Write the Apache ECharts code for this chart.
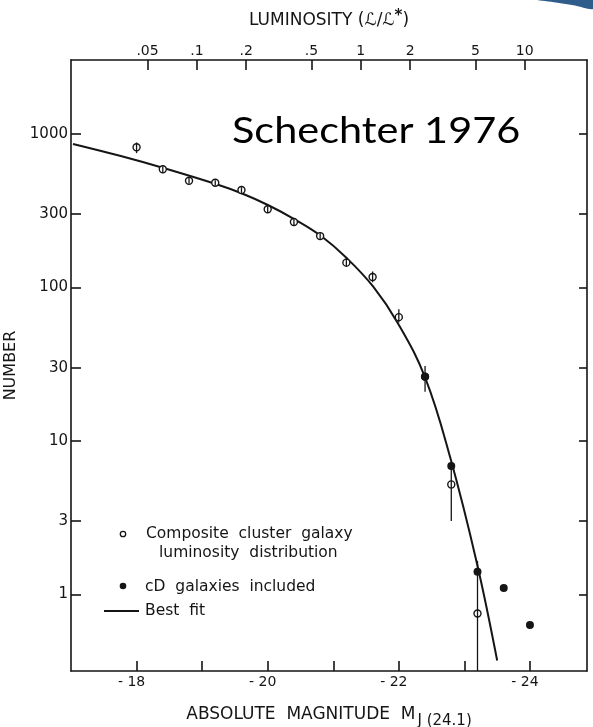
<!DOCTYPE html>
<html>
<head>
<meta charset="utf-8">
<script src="https://cdn.jsdelivr.net/npm/echarts@6/dist/echarts.min.js"></script>
<style>
  html, body { margin: 0; padding: 0; background: #ffffff; }
  #chart { width: 593px; height: 727px; }
</style>
</head>
<body>
<div id="chart"></div>
<script>
// Composite cluster galaxy luminosity function (open circles), 0.4 mag bins
const magBins = [-18.0, -18.4, -18.8, -19.2, -19.6, -20.0, -20.4, -20.8, -21.2, -21.6, -22.0, -22.4, -22.8, -23.2];
const compositeCounts = [819, 589, 496, 481, 431, 323, 267, 216, 145, 117, 64, 26.2, 5.2, 0.75];
// Error bar extents (0 means the bar runs down to the axis)
const errLow  = [750, 565, 475, 462, 413, 308, 255, 205, 136, 108, 59, 20.9, 3.0, 0];
const errHigh = [880, 615, 518, 500, 450, 338, 280, 228, 155, 127, 72, 30.7, 7.0, 1.65];

// Bins with cD galaxies included (filled dots)
const cdMags = [-22.4, -22.8, -23.2, -23.6, -24.0];
const cdCounts = [26.2, 6.85, 1.40, 1.10, 0.63];

// Best-fit curve, sampled along the drawn line
const fitMags   = [-17.03, -17.76, -18.41, -19.22, -19.61, -20.01, -20.41, -20.81, -21.20, -21.61, -21.99, -22.40, -22.78, -23.19, -23.50];
const fitCounts = [861, 718, 600, 470, 409, 343, 278, 217, 156, 101, 58, 25.9, 7.9, 1.6, 0.37];

// Axis ticks
const magTicks = [-18, -19, -20, -21, -22, -23, -24];
const magLabels = [-18, -20, -22, -24];
const numberTicks = [1, 3, 10, 30, 100, 300, 1000];
const lumTicks = [0.05, 0.1, 0.2, 0.5, 1, 2, 5, 10];
const lumLabels = ['.05', '.1', '.2', '.5', '1', '2', '5', '10'];

// Magnitude range of the frame and the characteristic magnitude M*
const magFaint = -17.0;
const magBright = -24.87;
const magStar = -21.42;
const lum = m => Math.pow(10, -0.4 * (m - magStar));

const INK = '#151515';
const FONT = 'DejaVu Sans';
const LEGEND_FONT = '15.5px "DejaVu Sans"';

const chart = echarts.init(document.getElementById('chart'), null, { renderer: 'canvas' });

const axisLine = { show: true, lineStyle: { color: INK, width: 1.6 } };
const tickStyle = { color: INK, width: 1.6 };

const option = {
  backgroundColor: '#ffffff',
  animation: false,
  textStyle: { fontFamily: FONT, color: INK },
  grid: { left: 71, top: 60, right: 6, bottom: 56, containLabel: false, outerBoundsMode: 'none' },
  xAxis: [
    {
      type: 'value', position: 'bottom', inverse: true,
      min: magBright, max: magFaint,
      name: 'ABSOLUTE  MAGNITUDE  M{sub|J (24.1)}',
      nameLocation: 'middle', nameGap: 30,
      nameTextStyle: {
        fontFamily: FONT, fontSize: 17, color: INK,
        rich: { sub: { fontFamily: FONT, fontSize: 15, color: INK, padding: [13, 0, 0, 2] } }
      },
      axisLine: axisLine,
      axisTick: { inside: true, length: 10, lineStyle: tickStyle, customValues: magTicks },
      axisLabel: {
        margin: 4, fontSize: 14, color: INK, fontFamily: FONT,
        padding: [0, 10, 0, 0],
        customValues: magLabels,
        formatter: v => '- ' + Math.abs(v)
      },
      splitLine: { show: false }
    },
    {
      type: 'log', position: 'top',
      min: lum(magFaint), max: lum(magBright),
      name: 'LUMINOSITY (ℒ/ℒ{sup|*})',
      nameLocation: 'middle', nameGap: 28,
      nameTextStyle: {
        fontFamily: FONT, fontSize: 17, color: INK,
        rich: { sup: { fontFamily: FONT, fontSize: 15, fontWeight: 'bold', color: INK, padding: [0, 0, 8, 0] } }
      },
      axisLine: axisLine,
      axisTick: { inside: true, length: 10, lineStyle: tickStyle, customValues: lumTicks },
      axisLabel: {
        margin: 2, fontSize: 14, color: INK, fontFamily: FONT,
        customValues: lumTicks,
        formatter: v => {
          const i = lumTicks.findIndex(t => Math.abs(t - v) < 1e-9);
          return i >= 0 ? lumLabels[i] : '';
        }
      },
      splitLine: { show: false }
    }
  ],
  yAxis: [
    {
      type: 'log', position: 'left',
      min: 0.3162, max: 3034,
      name: 'NUMBER', nameLocation: 'middle', nameGap: 46, nameRotate: 90,
      nameTextStyle: { fontFamily: FONT, fontSize: 16, color: INK },
      axisLine: axisLine,
      axisTick: { inside: true, length: 10, lineStyle: tickStyle, customValues: numberTicks },
      axisLabel: {
        margin: 3, fontSize: 15, color: INK, fontFamily: FONT,
        customValues: numberTicks,
        formatter: v => String(v)
      },
      splitLine: { show: false }
    },
    {
      type: 'log', position: 'right',
      min: 0.3162, max: 3034,
      axisLine: axisLine,
      axisTick: { inside: true, length: 8, lineStyle: tickStyle, customValues: numberTicks },
      axisLabel: { show: false },
      splitLine: { show: false }
    }
  ],
  series: [
    {
      name: 'Best fit',
      type: 'line',
      xAxisIndex: 0, yAxisIndex: 0,
      data: fitMags.map((m, i) => [m, fitCounts[i]]),
      smooth: 0.4,
      symbol: 'none',
      lineStyle: { color: INK, width: 2 },
      z: 2
    },
    {
      name: 'Error bars',
      type: 'custom',
      xAxisIndex: 0, yAxisIndex: 0,
      data: magBins.map((m, i) => [m, errLow[i], errHigh[i]]),
      renderItem: (params, api) => {
        const m = api.value(0);
        const lo = api.value(1);
        const hi = api.value(2);
        const top = api.coord([m, hi]);
        const bottomY = lo > 0 ? api.coord([m, lo])[1] : params.coordSys.y + params.coordSys.height;
        return {
          type: 'line',
          shape: { x1: top[0], y1: top[1], x2: top[0], y2: bottomY },
          style: { stroke: INK, lineWidth: 1.3 }
        };
      },
      z: 4
    },
    {
      name: 'Composite cluster galaxy luminosity distribution',
      type: 'scatter',
      xAxisIndex: 0, yAxisIndex: 0,
      data: magBins.map((m, i) => [m, compositeCounts[i]]),
      symbol: 'circle',
      symbolSize: 7,
      itemStyle: { color: '#ffffff', borderColor: INK, borderWidth: 1.4, opacity: 1 },
      z: 3
    },
    {
      name: 'cD galaxies included',
      type: 'scatter',
      xAxisIndex: 0, yAxisIndex: 0,
      data: cdMags.map((m, i) => [m, cdCounts[i]]),
      symbol: 'circle',
      symbolSize: 8,
      itemStyle: { color: INK, opacity: 1 },
      z: 5
    }
  ],
  graphic: [
    // caption
    {
      type: 'text', x: 232, y: 131, scaleX: 1.12, scaleY: 1,
      style: { text: 'Schechter 1976', font: '37px "Lato", sans-serif', fill: '#000000', verticalAlign: 'middle' }
    },
    // legend: open circle
    { type: 'circle', shape: { cx: 123, cy: 534, r: 2.7 }, style: { fill: '#fff', stroke: INK, lineWidth: 1.3 } },
    { type: 'text', x: 146, y: 534, style: { text: 'Composite  cluster  galaxy', font: LEGEND_FONT, fill: INK, verticalAlign: 'middle' } },
    { type: 'text', x: 159, y: 553, style: { text: 'luminosity  distribution', font: LEGEND_FONT, fill: INK, verticalAlign: 'middle' } },
    // legend: filled dot
    { type: 'circle', shape: { cx: 123, cy: 586, r: 3.3 }, style: { fill: INK } },
    { type: 'text', x: 145, y: 587, style: { text: 'cD  galaxies  included', font: LEGEND_FONT, fill: INK, verticalAlign: 'middle' } },
    // legend: line
    { type: 'line', shape: { x1: 104, y1: 611, x2: 139, y2: 611 }, style: { stroke: INK, lineWidth: 1.8 } },
    { type: 'text', x: 145, y: 611, style: { text: 'Best  fit', font: LEGEND_FONT, fill: INK, verticalAlign: 'middle' } },
    // blue corner swoosh
    {
      type: 'polygon', z: -1,
      shape: { points: [[538, 0], [556, 2.5], [575, 5.5], [593, 9], [593, 0]], smooth: 0.3 },
      style: { fill: '#2e5d8c' }
    }
  ]
};

chart.setOption(option);
</script>
</body>
</html>
